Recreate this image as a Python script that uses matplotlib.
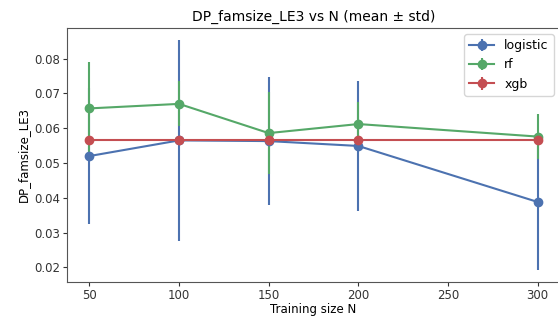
import matplotlib
matplotlib.use("Agg")
import matplotlib.pyplot as plt

# training sizes
sizes = [50, 100, 150, 200, 300]

# mean / std per model
logistic_mean = [0.0520, 0.0565, 0.0563, 0.0549, 0.0388]
logistic_std = [0.0196, 0.0290, 0.0185, 0.0186, 0.0197]
rf_mean = [0.0657, 0.0670, 0.0586, 0.0612, 0.0576]
rf_std = [0.0134, 0.0065, 0.0118, 0.0062, 0.0064]
xgb_mean = [0.0567, 0.0567, 0.0567, 0.0567, 0.0567]
xgb_std = [0.0, 0.0, 0.0, 0.0, 0.0]

models = ["logistic", "rf", "xgb"]
means = [logistic_mean, rf_mean, xgb_mean]
stds = [logistic_std, rf_std, xgb_std]
colors = ["#4C72B0", "#55A868", "#C44E52"]

fig = plt.figure(figsize=(5.58, 3.2), dpi=100)
ax = fig.add_axes([67 / 558, 38 / 320, 493 / 558, 254 / 320])

for name, m, s, c in zip(models, means, stds, colors):
    ax.errorbar(sizes, m, yerr=s, label=name, color=c, marker="o",
                markersize=6, linewidth=1.5, elinewidth=1.5, capsize=0)

ax.set_title("DP_famsize_LE3 vs N (mean \u00b1 std)", fontsize=10, pad=5)
ax.set_xlabel("Training size N", fontsize=8.5, labelpad=1)
ax.set_ylabel("DP_famsize_LE3", fontsize=8.5, labelpad=3)
ax.tick_params(labelsize=8.5, length=3, pad=2, colors="#333333")
for sp in ax.spines.values():
    sp.set_color("#555555")
ax.legend(loc="upper right", fontsize=9)

fig.savefig("out.png", dpi=100)
